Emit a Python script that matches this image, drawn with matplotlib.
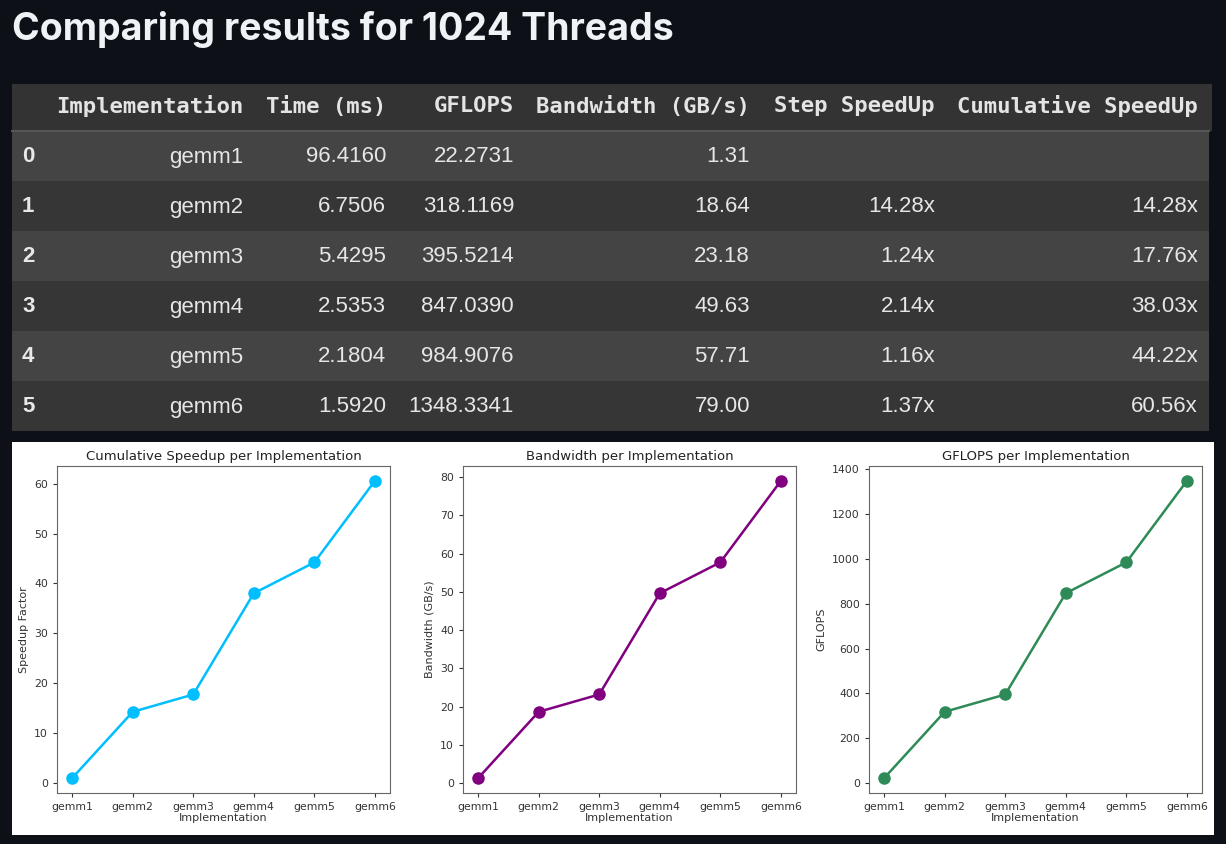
import matplotlib.pyplot as plt
from matplotlib.patches import Rectangle

impls = ["gemm1", "gemm2", "gemm3", "gemm4", "gemm5", "gemm6"]
time_ms = [96.4160, 6.7506, 5.4295, 2.5353, 2.1804, 1.5920]
gflops = [22.2731, 318.1169, 395.5214, 847.0390, 984.9076, 1348.3341]
bandwidth = [1.31, 18.64, 23.18, 49.63, 57.71, 79.00]
step_speedup = [None, 14.28, 1.24, 2.14, 1.16, 1.37]
cum_speedup = [1.00, 14.28, 17.76, 38.03, 44.22, 60.56]
headers = ["Implementation", "Time (ms)", "GFLOPS", "Bandwidth (GB/s)",
           "Step SpeedUp", "Cumulative SpeedUp"]

W, H = 1226, 844
fig = plt.figure(figsize=(W / 100, H / 100), dpi=100)
fig.patch.set_facecolor("#0d1117")

# full-figure axes in pixel coords for the title, table and white panel
bg = fig.add_axes([0, 0, 1, 1])
bg.set_xlim(0, W)
bg.set_ylim(H, 0)
bg.axis("off")

bg.text(12, 30, "Comparing results for 1024 Threads", color="#f0f3f6",
        fontsize=27, fontweight="bold", family=["Inter", "DejaVu Sans"],
        va="center", ha="left")

# table
tab_l, tab_r = 12, 1212
head_top, head_bot = 84, 131
row_h = 50
bg.add_patch(Rectangle((tab_l, head_top), tab_r - tab_l, head_bot - head_top,
                       color="#333333", lw=0))
bg.plot([tab_l, tab_r - 3], [head_bot, head_bot], color="#555555", lw=1.5)
col_right = [243, 386, 514, 750, 935, 1198]
for j, h in enumerate(headers):
    bg.text(col_right[j], 106, h, color="#e4e4e4", fontsize=16,
            fontweight="bold", family="DejaVu Sans Mono", ha="right", va="center")

for i in range(len(impls)):
    top = head_bot + i * row_h
    bg.add_patch(Rectangle((tab_l, top), tab_r - tab_l - 3, row_h,
                           color="#444444" if i % 2 == 0 else "#363636", lw=0))
    yc = top + row_h / 2 + 1
    step = "" if step_speedup[i] is None else f"{step_speedup[i]:.2f}x"
    cum = "" if i == 0 else f"{cum_speedup[i]:.2f}x"
    cells = [impls[i], f"{time_ms[i]:.4f}", f"{gflops[i]:.4f}",
             f"{bandwidth[i]:.2f}", step, cum]
    bg.text(22, yc, str(i), color="#e8e8e8", fontsize=16, fontweight="bold",
            family="Liberation Sans", ha="left", va="center")
    for j, c in enumerate(cells):
        bg.text(col_right[j], yc, c, color="#e6e6e6", fontsize=16,
                family="Liberation Sans", ha="right", va="center")

# white panel behind the charts
bg.add_patch(Rectangle((12, 442), 1202, 393, color="white", lw=0))


def px_axes(l, t, r, b):
    return fig.add_axes([l / W, 1 - b / H, (r - l) / W, (b - t) / H])


charts = [
    (57, cum_speedup, "deepskyblue", "Cumulative Speedup per Implementation", "Speedup Factor"),
    (463, bandwidth, "purple", "Bandwidth per Implementation", "Bandwidth (GB/s)"),
    (869, gflops, "seagreen", "GFLOPS per Implementation", "GFLOPS"),
]
for left, vals, col, title, ylab in charts:
    ax = px_axes(left, 466, left + 333, 793)
    ax.plot(impls, vals, marker="o", color=col, lw=1.8, markersize=8)
    ax.set_title(title, fontsize=9.5, color="#222222", pad=4)
    ax.set_xlabel("Implementation", fontsize=8, color="#333333", labelpad=1)
    ax.set_ylabel(ylab, fontsize=8, color="#333333")
    ax.tick_params(labelsize=7.8, colors="#333333", length=3)
    for s in ax.spines.values():
        s.set_color("#666666")

fig.savefig("out.png", dpi=100, facecolor=fig.get_facecolor())
